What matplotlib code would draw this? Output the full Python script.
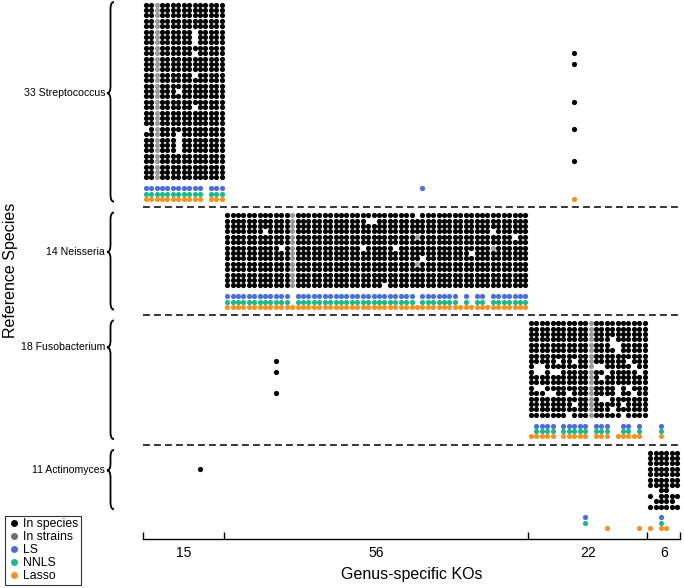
import matplotlib.pyplot as plt
import matplotlib.transforms as mtransforms
from matplotlib.path import Path
from matplotlib.patches import PathPatch
from matplotlib.lines import Line2D

plt.rcParams['font.family'] = ['Liberation Sans', 'DejaVu Sans']

# --- data ---
genera = ['Streptococcus', 'Neisseria', 'Fusobacterium', 'Actinomyces']
n_species = [33, 14, 18, 11]
n_kos = [15, 56, 22, 6]

# '#' = KO present in species, '+' = present only in strains, '.' = absent
strep_rows = [
    "##+############", "##+############", "##+############", "##+############",
    "##+############", "##+######.#####", "##+######.#####", "##+######.#####",
    "##+############", "##+######.#####", "##+############", "##+############",
    "##+############", "##+######.#####", "##+############", "##+############",
    "##+###.########", "##+############", "##+############", "##+######.#####",
    "##+############", "##+############", "##+############", ".#+############",
    "##+###.########", "##+###.########", "##+###.########", "##+###.########",
    "##+############", "##+############", "##+############", "##+############",
    "##+############",
]
neis_rows = [
    "########## ##+####### ########## #####.#### ########## ######",
    "########## ##+####### ######..## ########## ########## ######",
    "########## ##+####### ########## ########## ########## ######",
    "#######.## ##+####### ########## ########## #########. ######",
    "########## ##+####### ########## #####+#### ########## ###.##",
    "########## ##+####### ########## ########## ########## ######",
    "########## .#+####### #####.#### #.######## #########+ ######",
    "########## ##+####### ########## ########## #####.#### ######",
    "########## ##+####### ########## ######.### ########## ######",
    "########## ##+####### ########## #####+#### ########## ######",
    "########## ##+####### ########## ########## ########## ######",
    "########## ##+####### ########## ########## ########## ######",
    "########## ##+####### ########## ########## ########## ######",
    "########## ##+####### #########. ########## ########## ######",
]
fuso_rows = [
    "########## #+######## ##", "########## #+######## ##",
    "########## #+######## ##", "########## #+###.#### ##",
    "########## #+###..### ##", "########## #+####.### ##",
    "########## #+######## ##", "#####.##.# #+######.# ##",
    "#..####### #+..#####. ##", "#..#..#### #+##.##### .#",
    "########## #+#.###### ##", "########## #+######## ##",
    "#..####### #+####.#.# ##", "###..##.## #+####.##. ##",
    "########## #+#..##### ##", "########.# #+#####.## ##",
    "########## #+###.#### ##", "#######.## #+#####.## ##",
]
actino_rows = [
    "######", "######", "######", "######", "######", "######",
    "######", "..##..", "#.####", ".####.", "######",
]

# KOs found in reference species of another genus: (genus, species row, KO column)
cross_hits = [
    ('Streptococcus', 9, 79), ('Streptococcus', 11, 79), ('Streptococcus', 18, 79),
    ('Streptococcus', 23, 79), ('Streptococcus', 29, 79),
    ('Fusobacterium', 7, 24), ('Fusobacterium', 9, 24), ('Fusobacterium', 13, 24),
    ('Actinomyces', 3, 10),
]

# KO columns predicted by each method, per genus
ls_hits = ['0-10,12-14,51', '15-26,28-49,51-57,59,61-62,64-70',
           '72-75,77-81,83-85,88-89,91,95', '81,95']
nnls_hits = ['0-10,12-14', '15-26,28-49,51-57,59,61-62,64-70',
             '72-75,77-81,83-85,88-89,91,95', '81,95']
lasso_hits = ['0-10,12-14,79', '15-70',
              '71-75,77-81,83-85,87-91,95', '85,91,93,95,96']

methods = ['LS', 'NNLS', 'Lasso']
method_hits = [ls_hits, nnls_hits, lasso_hits]
method_colors = ['#4a6fdc', '#1db98c', '#f39420']
black, grey = '#000000', '#9a9a9a'


def parse_cols(s):
    out = []
    for part in s.split(','):
        if '-' in part:
            a, b = part.split('-')
            out += list(range(int(a), int(b) + 1))
        else:
            out.append(int(part))
    return out


# --- layout ---
row_start, col_start = [], []
r = c = 0
for ns, nk in zip(n_species, n_kos):
    row_start.append(r)
    col_start.append(c)
    r += ns + 6
    c += nk
total_kos = c

fig = plt.figure(figsize=(6.84, 5.88), dpi=100)
ax = fig.add_axes([143 / 684, 1 - 539 / 588, 537 / 684, 537 / 588])

bx, by, gx, gy = [], [], [], []
for g, rows in enumerate([strep_rows, neis_rows, fuso_rows, actino_rows]):
    for i, line in enumerate(rows):
        line = line.replace(' ', '')
        for j, ch in enumerate(line):
            if ch == '#':
                bx.append(col_start[g] + j)
                by.append(row_start[g] + i)
            elif ch == '+':
                gx.append(col_start[g] + j)
                gy.append(row_start[g] + i)
for genus, i, j in cross_hits:
    g = genera.index(genus)
    bx.append(j)
    by.append(row_start[g] + i)

ms = 14
ax.scatter(bx, by, s=ms, c=black, linewidths=0)
ax.scatter(gx, gy, s=ms, c=grey, linewidths=0)

for m, (hits, col) in enumerate(zip(method_hits, method_colors)):
    for g in range(len(genera)):
        xs = parse_cols(hits[g])
        ys = [row_start[g] + n_species[g] + 1 + m] * len(xs)
        ax.scatter(xs, ys, s=ms, c=col, linewidths=0)

# dashed separators between genera
for g in range(len(genera) - 1):
    y = row_start[g] + n_species[g] + 4.5
    ax.plot([-0.5, total_kos - 0.5], [y, y], color='black', lw=1.1,
            linestyle=(0, (4.5, 2.7)), clip_on=False)

ax.set_xlim(-0.5, total_kos - 0.5)
ax.set_ylim(99, -0.5)
for s in ['left', 'right', 'top']:
    ax.spines[s].set_visible(False)
ax.spines['bottom'].set_linewidth(1.0)
ax.set_yticks([])

bounds = [-0.5] + [col_start[g] + n_kos[g] - 0.5 for g in range(len(genera))]
centers = [col_start[g] + (n_kos[g] - 1) / 2 for g in range(len(genera))]
ax.set_xticks(centers)
ax.set_xticklabels([str(n) for n in n_kos], fontsize=10)
ax.tick_params(axis='x', which='major', length=0, pad=5)
ax.set_xticks(bounds, minor=True)
ax.tick_params(axis='x', which='minor', direction='in', length=5, width=1.0)
ax.set_xlabel('Genus-specific KOs', fontsize=11.5, labelpad=5)

fig.text(0.016, 1 - 270 / 588, 'Reference Species', rotation=90,
         va='center', ha='center', fontsize=11.5)

# braces + genus labels
trans = mtransforms.blended_transform_factory(fig.transFigure, ax.transData)
brace_spans = [(-0.5, 16.4, 36.5), (38.5, 45.8, 56.5), (58.5, 63.5, 80.5), (82.5, 86.3, 93.5)]
x0, w = 114 / 684, 7 / 684
for g, (top, tip, bot) in enumerate(brace_spans):
    q = 1.3
    verts = [(x0, top), (x0 - w / 2, top), (x0 - w / 2, top + q),
             (x0 - w / 2, tip - q),
             (x0 - w / 2, tip), (x0 - w, tip),
             (x0 - w / 2, tip), (x0 - w / 2, tip + q),
             (x0 - w / 2, bot - q),
             (x0 - w / 2, bot), (x0, bot)]
    codes = [Path.MOVETO, Path.CURVE3, Path.CURVE3, Path.LINETO,
             Path.CURVE3, Path.CURVE3, Path.CURVE3, Path.CURVE3,
             Path.LINETO, Path.CURVE3, Path.CURVE3]
    ax.add_patch(PathPatch(Path(verts, codes), transform=trans, fill=False,
                           lw=1.3, color='black', clip_on=False))
    ax.text(105 / 684, tip, f'{n_species[g]} {genera[g]}', transform=trans,
            ha='right', va='center', fontsize=7.6)

handles = [Line2D([], [], marker='o', ls='', color=cl, markersize=4)
           for cl in [black, '#6e6e6e'] + method_colors]
leg = fig.legend(handles, ['In species', 'In strains'] + methods, loc='lower left',
                 bbox_to_anchor=(5 / 684, 3 / 588), fontsize=8.8, frameon=True,
                 fancybox=False, edgecolor='black', handletextpad=0.25,
                 labelspacing=0.08, borderpad=0.22, handlelength=1.0,
                 borderaxespad=0)
leg.get_frame().set_linewidth(0.8)

fig.savefig('out.png', dpi=100)
